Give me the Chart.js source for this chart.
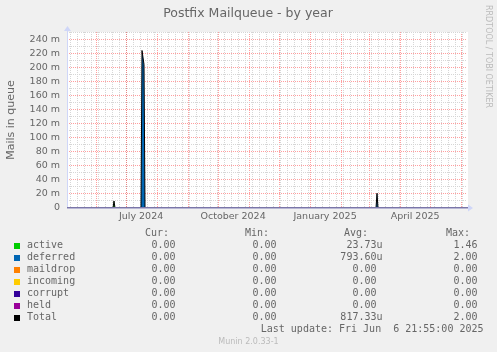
<!DOCTYPE html>
<html>
<head>
<meta charset="utf-8">
<title>Postfix Mailqueue - by year</title>
<script src="https://cdn.jsdelivr.net/npm/chart.js@4.4.1/dist/chart.umd.min.js"></script>
<style>
  html, body { margin: 0; padding: 0; background: #f0f0f0; }
  canvas { display: block; }
</style>
</head>
<body>
<canvas id="chart" width="497" height="352"></canvas>
<script>
// x = days since the start of the 400 day window (ends at the last update)
const days     = [0, 46, 47,    48, 74, 75,    77,    78, 309, 310,   311, 400];
const active   = [0, 0,  0.010, 0,  0,  0,     0,     0,  0,   0,     0,   0];
const deferred = [0, 0,  0,     0,  0,  0.225, 0.205, 0,  0,   0.021, 0,   0];
const maildrop = [0, 0,  0,     0,  0,  0,     0,     0,  0,   0,     0,   0];
const incoming = [0, 0,  0,     0,  0,  0,     0,     0,  0,   0,     0,   0];
const corrupt  = [0, 0,  0,     0,  0,  0,     0,     0,  0,   0,     0,   0];
const held     = [0, 0,  0,     0,  0,  0,     0,     0,  0,   0,     0,   0];
const total    = [0, 0,  0.010, 0,  0,  0.225, 0.205, 0,  0,   0.021, 0,   0];

const names  = ['active', 'deferred', 'maildrop', 'incoming', 'corrupt', 'held', 'Total'];
const colors = ['#00cc00', '#0066b3', '#ff8000', '#ffcc00', '#330099', '#990099', '#000000'];
const curVals = ['0.00', '0.00', '0.00', '0.00', '0.00', '0.00', '0.00'];
const minVals = ['0.00', '0.00', '0.00', '0.00', '0.00', '0.00', '0.00'];
const avgVals = ['23.73u', '793.60u', '0.00 ', '0.00 ', '0.00 ', '0.00 ', '817.33u'];
const maxVals = ['1.46', '2.00', '0.00', '0.00', '0.00', '0.00', '2.00'];

const xLabels = ['July 2024', 'October 2024', 'January 2025', 'April 2025'];
const xLabelMonths = [[2024, 6], [2024, 9], [2025, 0], [2025, 3]];
const yTicks = [0, 0.01, 0.02, 0.03, 0.04, 0.05, 0.06, 0.07, 0.08, 0.09, 0.10, 0.11, 0.12,
  0.13, 0.14, 0.15, 0.16, 0.17, 0.18, 0.19, 0.20, 0.21, 0.22, 0.23, 0.24, 0.25];

const DAY = 86400000;
const endTime = Date.UTC(2025, 5, 6, 21, 55);
const startTime = endTime - 400 * DAY;
const toDay = (t) => (t - startTime) / DAY;

const MGRID = 'rgba(255,0,0,0.38)';
const GRID = '#d6d6d6';
const FONT = '#666666';

// x ticks: weeks (minor), months (major), labels mid-month
function buildXTicks() {
  const ticks = [];
  let t = Date.UTC(2024, 4, 6); // first monday
  while (toDay(t) <= 400) { ticks.push({ value: toDay(t), kind: 'minor' }); t += 7 * DAY; }
  for (let y = 2024, m = 5; toDay(Date.UTC(y, m, 1)) <= 400; m++) {
    if (m > 11) { m = 0; y++; }
    ticks.push({ value: toDay(Date.UTC(y, m, 1)), kind: 'major' });
  }
  xLabelMonths.forEach(([y, m], i) => {
    ticks.push({ value: toDay(Date.UTC(y, m, 1)) + 15, kind: 'label', lbl: xLabels[i] });
  });
  return ticks;
}

const series = [active, deferred, maildrop, incoming, corrupt, held];
const datasets = series.map((vals, i) => ({
  label: names[i],
  data: days.map((d, k) => ({ x: d, y: vals[k] })),
  backgroundColor: colors[i],
  borderColor: 'rgba(0,0,0,0)',
  borderWidth: 0,
  fill: i === 0 ? 'origin' : '-1',
  stack: 'areas',
  order: 1,
}));
datasets.push({
  label: 'Total',
  data: days.map((d, k) => ({ x: d, y: total[k] })),
  borderColor: '#000',
  borderWidth: 1,
  fill: false,
  stack: 'total',
  order: 0,
  segment: {
    borderColor: (c) => (c.p0.parsed.y === 0 && c.p1.parsed.y === 0) ? 'rgba(0,0,0,0)' : undefined,
  },
});

const decor = {
  id: 'decor',
  beforeDraw(chart) {
    const { ctx, chartArea: a } = chart;
    ctx.save();
    ctx.fillStyle = '#f0f0f0';
    ctx.fillRect(0, 0, chart.width, chart.height);
    ctx.fillStyle = '#ffffff';
    ctx.fillRect(a.left, a.top, a.right - a.left + 1, a.bottom - a.top);
    ctx.restore();
  },
  afterDatasetsDraw(chart) {
    const { ctx, chartArea: a } = chart;
    ctx.save();
    // axes
    ctx.fillStyle = '#cfd6f8';
    ctx.fillRect(a.left, a.top - 4, 1, a.bottom - a.top + 4);
    ctx.beginPath();
    ctx.moveTo(a.left - 3, a.top - 1); ctx.lineTo(a.left + 4, a.top - 1); ctx.lineTo(a.left + 0.5, a.top - 6);
    ctx.fill();
    ctx.beginPath();
    ctx.moveTo(a.right + 1, a.bottom - 3.5); ctx.lineTo(a.right + 1, a.bottom + 3.5); ctx.lineTo(a.right + 6, a.bottom);
    ctx.fill();
    ctx.fillStyle = '#7a76a8';
    ctx.fillRect(a.left, a.bottom - 1, a.right - a.left + 1, 1);
    ctx.fillStyle = '#b8b6d4';
    ctx.fillRect(a.left, a.bottom, a.right - a.left + 1, 1);
    ctx.restore();
  },
  afterDraw(chart) {
    const { ctx } = chart;
    ctx.save();
    ctx.fillStyle = FONT;
    ctx.textBaseline = 'middle';
    ctx.textAlign = 'center';
    ctx.font = '12.5px "DejaVu Sans"';
    ctx.fillText('Postfix Mailqueue - by year', 248, 14);

    ctx.save();
    ctx.translate(11, 120);
    ctx.rotate(-Math.PI / 2);
    ctx.font = '11px "DejaVu Sans"';
    ctx.fillText('Mails in queue', 0, 0);
    ctx.restore();

    ctx.save();
    ctx.translate(488, 5);
    ctx.rotate(Math.PI / 2);
    ctx.textAlign = 'left';
    ctx.fillStyle = '#bbbbbb';
    ctx.font = '8px "DejaVu Sans"';
    ctx.fillText('RRDTOOL / TOBI OETIKER', 0, 0);
    ctx.restore();

    // legend
    ctx.font = '10px "DejaVu Sans Mono"';
    ctx.textAlign = 'right';
    ctx.fillText('Cur:', 169, 233.5);
    ctx.fillText('Min:', 269, 233.5);
    ctx.fillText('Avg:', 368, 233.5);
    ctx.fillText('Max:', 470, 233.5);
    names.forEach((n, i) => {
      const cy = 245.7 + i * 12;
      ctx.fillStyle = colors[i];
      ctx.fillRect(14, Math.round(cy - 3), 6, 6);
      ctx.fillStyle = FONT;
      ctx.textAlign = 'left';
      ctx.fillText(n, 27, cy);
      ctx.textAlign = 'right';
      ctx.fillText(curVals[i], 175.5, cy);
      ctx.fillText(minVals[i], 276.5, cy);
      ctx.fillText(avgVals[i], 382.5, cy);
      ctx.fillText(maxVals[i], 477.5, cy);
    });
    ctx.fillText('Last update: Fri Jun  6 21:55:00 2025', 483.5, 329.5);

    ctx.textAlign = 'center';
    ctx.fillStyle = '#bbbbbb';
    ctx.font = '8px "DejaVu Sans"';
    ctx.fillText('Munin 2.0.33-1', 248.5, 341.5);
    ctx.restore();
  },
};

new Chart(document.getElementById('chart').getContext('2d'), {
  type: 'line',
  data: { datasets },
  plugins: [decor],
  options: {
    responsive: false,
    animation: false,
    events: [],
    layout: { padding: { left: 0, top: 32, right: 30, bottom: 0 } },
    elements: { point: { radius: 0 }, line: { tension: 0 } },
    plugins: { legend: { display: false }, tooltip: { enabled: false }, title: { display: false } },
    scales: {
      x: {
        type: 'linear',
        min: 0,
        max: 400,
        afterBuildTicks: (s) => { s.ticks = buildXTicks(); },
        afterFit: (s) => { s.height = 144; },
        grid: {
          drawTicks: false,
          color: (c) => !c.tick ? 'rgba(0,0,0,0)' : c.tick.kind === 'major' ? MGRID :
            c.tick.kind === 'minor' ? GRID : 'rgba(0,0,0,0)',
        },
        border: { display: false, dash: [1, 1] },
        ticks: {
          autoSkip: false,
          maxRotation: 0,
          padding: 3,
          color: FONT,
          font: { family: 'DejaVu Sans', size: 9.5 },
          callback: (v, i, ticks) => ticks[i].lbl || '',
        },
      },
      y: {
        stacked: true,
        min: 0,
        max: 0.2514,
        afterBuildTicks: (s) => { s.ticks = yTicks.map((v) => ({ value: v })); },
        afterFit: (s) => { s.width = 67; },
        grid: {
          drawTicks: false,
          color: (c) => c.index % 2 === 0 ? MGRID : GRID,
        },
        border: { display: false, dash: [1, 1] },
        ticks: {
          autoSkip: false,
          padding: 7,
          color: FONT,
          font: { family: 'DejaVu Sans', size: 9.5 },
          callback: (v, i) => i % 2 !== 0 ? '' : (i === 0 ? '0' : Math.round(v * 1000) + ' m'),
        },
      },
    },
  },
});
</script>
</body>
</html>
